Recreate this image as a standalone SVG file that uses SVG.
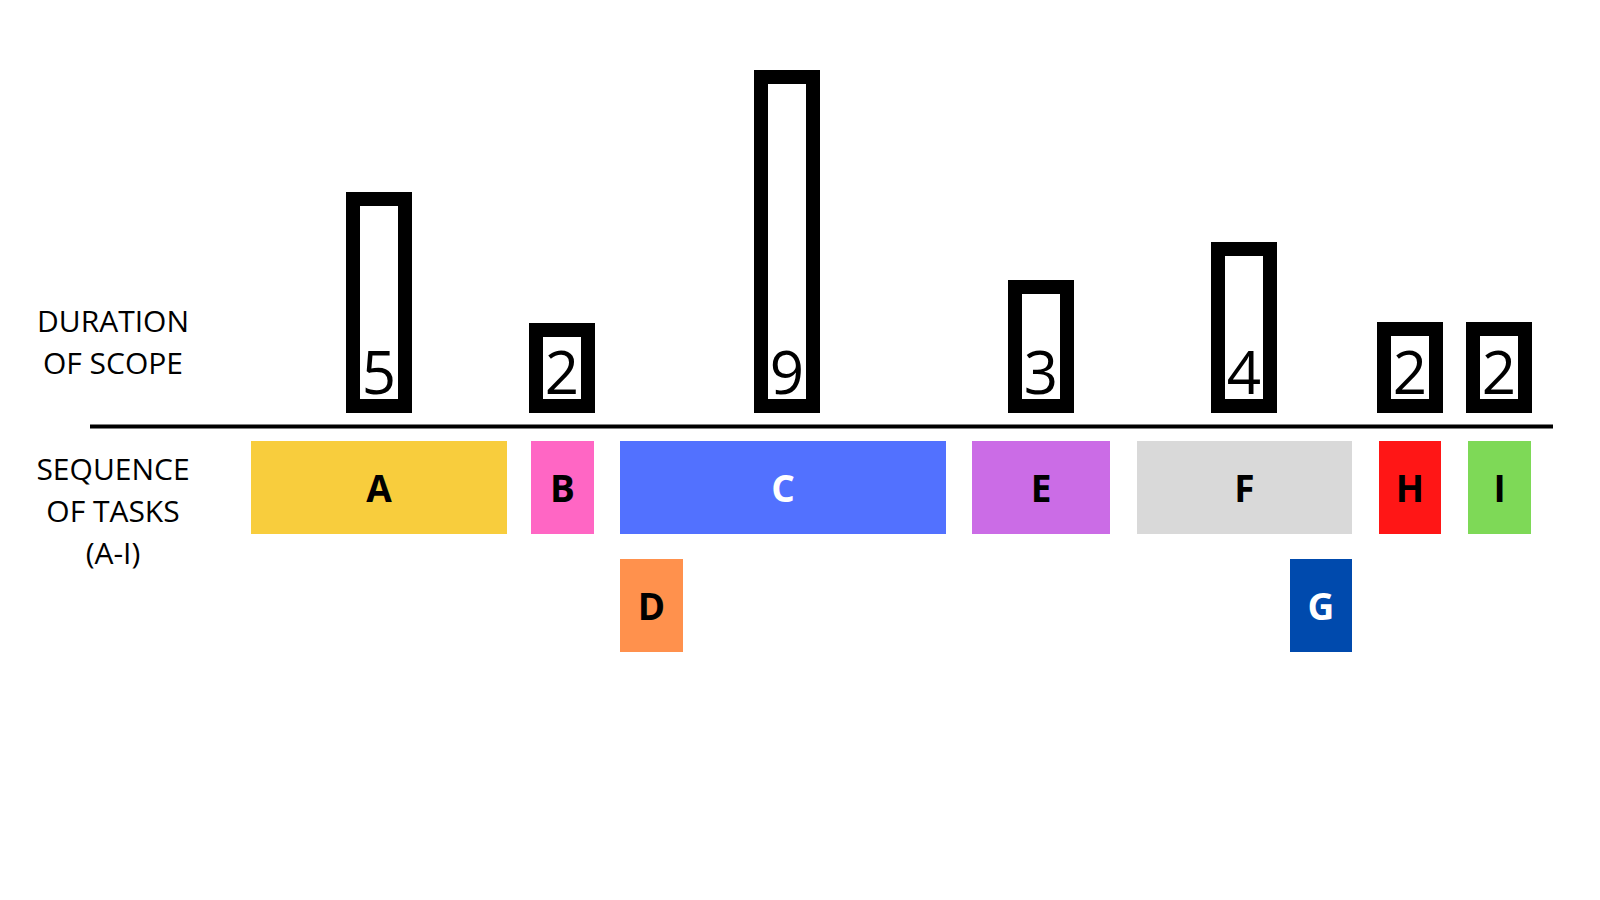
<svg xmlns="http://www.w3.org/2000/svg" width="1600" height="900" viewBox="0 0 1600 900">
<style>
.bar{fill:#fff;stroke:#000;stroke-width:14}
.num{font-family:"Open Sans","Liberation Sans",sans-serif;font-size:60px;font-weight:400;fill:#000;text-anchor:middle}
.lab{font-family:"Open Sans","Liberation Sans",sans-serif;font-size:30px;font-weight:400;fill:#000;text-anchor:middle}
.tl{font-family:"Open Sans","Liberation Sans",sans-serif;font-size:37px;font-weight:bold;fill:#000;text-anchor:middle}
.w{fill:#fff}
</style>
<rect width="1600" height="900" fill="#fff"/>
<g id="labels">
<text class="lab" x="113" y="332">DURATION</text>
<text class="lab" x="113" y="374">OF SCOPE</text>
<text class="lab" x="113" y="480">SEQUENCE</text>
<text class="lab" x="113" y="522">OF TASKS</text>
<text class="lab" x="113" y="564">(A-I)</text>
</g>
<g id="connectors">
<line x1="90" y1="426.5" x2="1553" y2="426.5" stroke="#000" stroke-width="4"/>
</g>
<g id="bar-a"><rect class="bar" x="353" y="199" width="52" height="207"/><text class="num" x="379" y="394">5</text></g>
<g id="bar-b"><rect class="bar" x="536" y="330" width="52" height="76"/><text class="num" x="562" y="394">2</text></g>
<g id="bar-c"><rect class="bar" x="761" y="77" width="52" height="329"/><text class="num" x="787" y="394">9</text></g>
<g id="bar-e"><rect class="bar" x="1015" y="287" width="52" height="119"/><text class="num" x="1041" y="394">3</text></g>
<g id="bar-f"><rect class="bar" x="1218" y="249" width="52" height="157"/><text class="num" x="1244" y="394">4</text></g>
<g id="bar-h"><rect class="bar" x="1384" y="329" width="52" height="77"/><text class="num" x="1410" y="394">2</text></g>
<g id="bar-i"><rect class="bar" x="1473" y="329" width="52" height="77"/><text class="num" x="1499" y="394">2</text></g>
<g id="task-a"><rect x="251" y="441" width="256" height="93" fill="#F8CD3D"/><text class="tl" x="379" y="502">A</text></g>
<g id="task-b"><rect x="531" y="441" width="63" height="93" fill="#FF66C4"/><text class="tl" x="562.5" y="502">B</text></g>
<g id="task-c"><rect x="620" y="441" width="326" height="93" fill="#5271FF"/><text class="tl w" x="783" y="502">C</text></g>
<g id="task-d"><rect x="620" y="559" width="63" height="93" fill="#FF914D"/><text class="tl" x="651.5" y="620">D</text></g>
<g id="task-e"><rect x="972" y="441" width="138" height="93" fill="#CB6CE6"/><text class="tl" x="1041" y="502">E</text></g>
<g id="task-f"><rect x="1137" y="441" width="215" height="93" fill="#D9D9D9"/><text class="tl" x="1244.5" y="502">F</text></g>
<g id="task-g"><rect x="1290" y="559" width="62" height="93" fill="#004AAD"/><text class="tl w" x="1321" y="620">G</text></g>
<g id="task-h"><rect x="1379" y="441" width="62" height="93" fill="#FF1616"/><text class="tl" x="1410" y="502">H</text></g>
<g id="task-i"><rect x="1468" y="441" width="63" height="93" fill="#7ED957"/><text class="tl" x="1499.5" y="502">I</text></g>
</svg>
